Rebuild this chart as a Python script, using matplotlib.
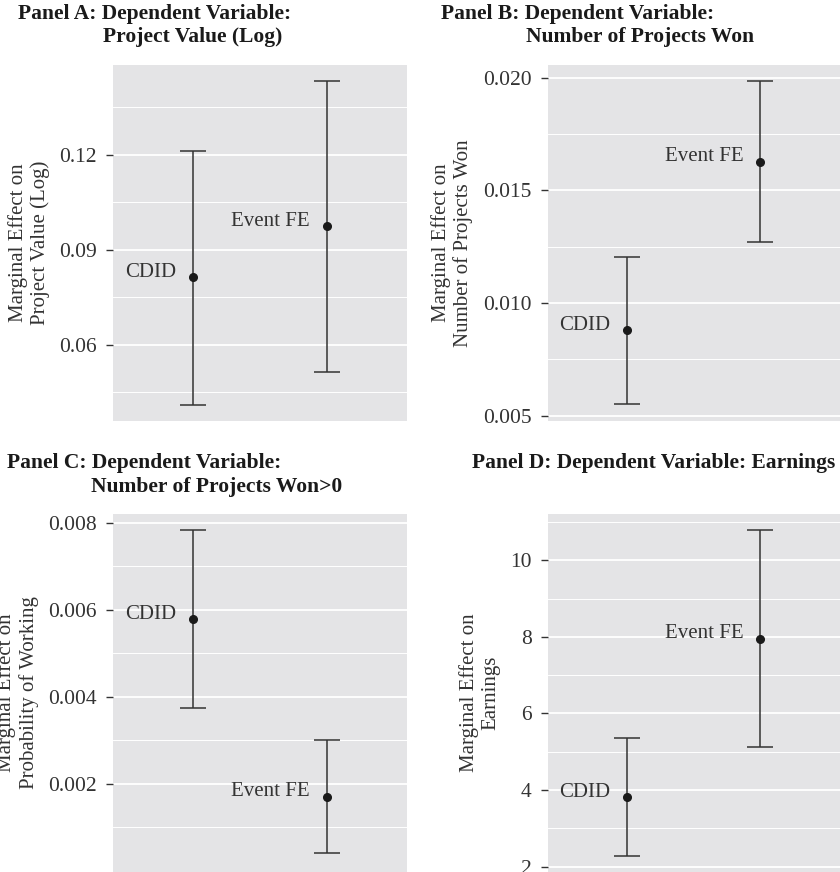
import matplotlib
matplotlib.use("Agg")
import matplotlib.pyplot as plt
from matplotlib.ticker import FixedLocator

plt.rcParams['font.family'] = ['Liberation Serif', 'DejaVu Serif']

models = ["CDID", "Event FE"]

# Panel A
a_est = [0.0812, 0.0974]
a_lo = [0.0410, 0.0514]
a_hi = [0.1213, 0.1434]
# Panel B
b_est = [0.00879, 0.01627]
b_lo = [0.00552, 0.01269]
b_hi = [0.01205, 0.01987]
# Panel C
c_est = [0.00578, 0.00170]
c_lo = [0.00373, 0.00041]
c_hi = [0.00783, 0.00301]
# Panel D
d_est = [3.81, 7.95]
d_lo = [2.29, 5.12]
d_hi = [5.36, 10.79]

W, H = 840, 872
fig = plt.figure(figsize=(W / 100, H / 100), dpi=100)

BG = '#E4E4E6'
LINE = '#333333'
TXT = '#333333'


def add_ax(left, top, right, bottom):
    return fig.add_axes([left / W, 1 - bottom / H, (right - left) / W, (bottom - top) / H])


panels = [
    dict(box=(113, 65, 407, 420.7), est=a_est, lo=a_lo, hi=a_hi, ylim=(0.0359, 0.1484),
         major=[0.06, 0.09, 0.12], minor=[0.045, 0.075, 0.105, 0.135], fmt='{:.2f}',
         ylabel='Marginal Effect on\nProject Value (Log)'),
    dict(box=(547.7, 65, 840, 420.7), est=b_est, lo=b_lo, hi=b_hi, ylim=(0.00478, 0.02056),
         major=[0.005, 0.010, 0.015, 0.020], minor=[0.0075, 0.0125, 0.0175], fmt='{:.3f}',
         ylabel='Marginal Effect on\nNumber of Projects Won'),
    dict(box=(113, 514, 407, 872), est=c_est, lo=c_lo, hi=c_hi, ylim=(-0.00003, 0.0082),
         major=[0.002, 0.004, 0.006, 0.008], minor=[0.001, 0.003, 0.005, 0.007], fmt='{:.3f}',
         ylabel='Marginal Effect on\nProbability of Working'),
    dict(box=(547.7, 514, 840, 872), est=d_est, lo=d_lo, hi=d_hi, ylim=(1.86, 11.21),
         major=[2, 4, 6, 8, 10], minor=[3, 5, 7, 9, 11], fmt='{:g}',
         ylabel='Marginal Effect on\nEarnings'),
]

xs = [1, 2]
for p in panels:
    ax = add_ax(*p['box'])
    ax.set_facecolor(BG)
    for s in ax.spines.values():
        s.set_visible(False)
    ax.set_xlim(0.4, 2.6)
    ax.set_ylim(*p['ylim'])
    ax.yaxis.set_major_locator(FixedLocator(p['major']))
    ax.yaxis.set_minor_locator(FixedLocator(p['minor']))
    ax.set_yticklabels([p['fmt'].format(v) for v in p['major']])
    ax.set_xticks([])
    ax.grid(True, which='major', axis='y', color='white', lw=1.3, zorder=0)
    ax.grid(True, which='minor', axis='y', color='white', lw=0.7, zorder=0)
    ax.set_axisbelow(True)
    ax.tick_params(axis='y', which='major', length=5, width=1, color=LINE,
                   labelsize=15.5, labelcolor=TXT, pad=6.5)
    ax.tick_params(axis='y', which='minor', length=0)
    ax.set_ylabel(p['ylabel'], fontsize=15, color=TXT, linespacing=1.15, labelpad=7)
    err_lo = [e - l for e, l in zip(p['est'], p['lo'])]
    err_hi = [h - e for e, h in zip(p['est'], p['hi'])]
    ax.errorbar(xs, p['est'], yerr=[err_lo, err_hi], fmt='o', color='#1a1a1a', ecolor=LINE,
                elinewidth=1.1, capsize=9.4, capthick=1.1, markersize=5.5, zorder=3)
    for x, y, name in zip(xs, p['est'], models):
        ax.annotate(name, (x, y), xytext=(-17, 5), textcoords='offset pixels',
                    ha='right', va='center', fontsize=15, color=TXT)

title_kw = dict(fontsize=15.5, fontweight='bold', color='#1a1a1a', va='center', ha='left')
fig.text(17.7 / W, 1 - 14 / H, 'Panel A: Dependent Variable:', **title_kw)
fig.text(103 / W, 1 - 37 / H, 'Project Value (Log)', **title_kw)
fig.text(440.7 / W, 1 - 14 / H, 'Panel B: Dependent Variable:', **title_kw)
fig.text(526 / W, 1 - 37 / H, 'Number of Projects Won', **title_kw)
fig.text(6.7 / W, 1 - 463 / H, 'Panel C: Dependent Variable:', **title_kw)
fig.text(90.7 / W, 1 - 486.7 / H, 'Number of Projects Won>0', **title_kw)
fig.text(471.7 / W, 1 - 463 / H, 'Panel D: Dependent Variable: Earnings', **title_kw)

fig.savefig('out.png', dpi=100, facecolor='white')
